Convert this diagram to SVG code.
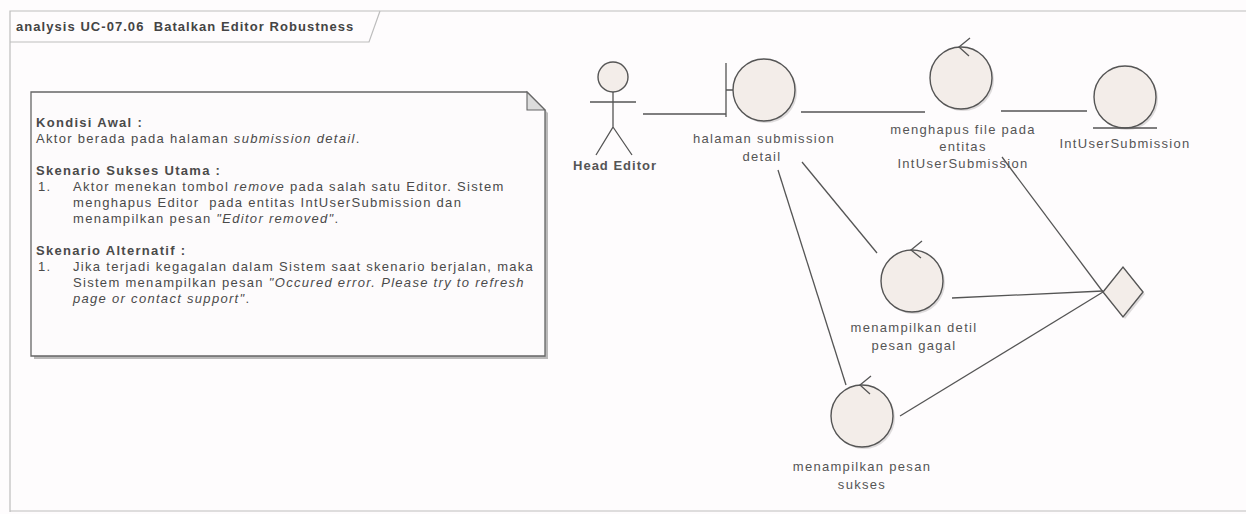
<svg xmlns="http://www.w3.org/2000/svg" width="1246" height="514" viewBox="0 0 1246 514">
<style>
.bg{fill:#fefcfd}
.frame{fill:none;stroke:#bdbdbd;stroke-width:1.2}
.t{font-family:"Liberation Sans",Arial,sans-serif;font-size:13px;letter-spacing:1.3px;fill:#555}
.nt{fill:#4a4a4a}
.b{font-weight:bold}
.i{font-style:italic}
.n{font-style:normal}
.c{text-anchor:middle}
.node{fill:#f3ede9;stroke:#555;stroke-width:1.4}
.sh{fill:#b9b4b4;opacity:.45}
.ln{stroke:#555;stroke-width:1.3;fill:none}
</style>
<rect class="bg" x="0" y="0" width="1246" height="514"/>
<g id="frame">
  <path class="frame" d="M10,512 V11 H1246 M10,511 H1246"/>
  <path class="frame" d="M10,42 H369 L380,11"/>
  <text class="t b" x="16" y="31" xml:space="preserve" style="letter-spacing:1.05px;fill:#444">analysis UC-07.06  Batalkan Editor Robustness</text>
</g>
<g id="note">
  <polygon points="34,95 530,95 548,113 548,359 34,359" fill="#8c8c8c" opacity=".6"/>
  <polygon points="31,92 527,92 545,110 545,356 31,356" fill="#fdfbfc" stroke="#666" stroke-width="1.3"/>
  <polygon points="527,92 527,110 545,110" fill="#dcdcdc" stroke="#666" stroke-width="1.1"/>
  <text class="t b nt" x="36" y="127">Kondisi Awal :</text>
  <text class="t nt" x="36" y="143">Aktor berada pada halaman <tspan class="i">submission detail</tspan>.</text>
  <text class="t b nt" x="36" y="175">Skenario Sukses Utama :</text>
  <text class="t nt" x="38" y="191">1.</text>
  <text class="t nt" x="73" y="191">Aktor menekan tombol <tspan class="i">remove</tspan> pada salah satu Editor. Sistem</text>
  <text class="t nt" x="73" y="207" xml:space="preserve">menghapus Editor  pada entitas IntUserSubmission dan</text>
  <text class="t nt" x="73" y="223">menampilkan pesan <tspan class="i">"Editor removed"</tspan>.</text>
  <text class="t b nt" x="36" y="255">Skenario Alternatif :</text>
  <text class="t nt" x="38" y="271">1.</text>
  <text class="t nt" x="73" y="271">Jika terjadi kegagalan dalam Sistem saat skenario berjalan, maka</text>
  <text class="t nt" x="73" y="287">Sistem menampilkan pesan <tspan class="i">"Occured error. Please try to refresh</tspan></text>
  <text class="t nt" x="73" y="303"><tspan class="i">page or contact support"</tspan>.</text>
</g>
<g id="connectors">
  <line class="ln" x1="643" y1="114" x2="726" y2="114"/>
  <line class="ln" x1="801" y1="112" x2="925" y2="112"/>
  <line class="ln" x1="1001" y1="111" x2="1087" y2="111"/>
  <line class="ln" x1="802" y1="162" x2="877" y2="253"/>
  <line class="ln" x1="778" y1="170" x2="846" y2="385"/>
  <line class="ln" x1="1002" y1="157" x2="1103" y2="292"/>
  <line class="ln" x1="952" y1="298" x2="1103" y2="291"/>
  <line class="ln" x1="900" y1="416" x2="1103" y2="292"/>
</g>
<g id="head-editor">
  <circle class="node" cx="613" cy="77" r="15"/>
  <path class="ln" d="M590,102 H636 M613,92 V127 L596,155 M613,127 L632,155"/>
  <text class="t b c" x="615" y="170" style="letter-spacing:1px;fill:#555">Head Editor</text>
</g>
<g id="halaman-submission-detail">
  <circle class="sh" cx="766" cy="92" r="31"/>
  <path class="ln" d="M726,63 V117 M726,90 H733"/>
  <circle class="node" cx="764" cy="90" r="31"/>
  <text class="t c" x="764" y="142.5">halaman submission</text>
  <text class="t c" x="762" y="160.5">detail</text>
</g>
<g id="menghapus-file">
  <circle class="sh" cx="963" cy="80" r="31"/>
  <circle class="node" cx="961" cy="78" r="31"/>
  <path class="ln" d="M970,38 L959,47 L969,56"/>
  <text class="t c" x="963" y="134">menghapus file pada</text>
  <text class="t c" x="963" y="151">entitas</text>
  <text class="t c" x="963" y="168">IntUserSubmission</text>
</g>
<g id="intusersubmission">
  <circle class="sh" cx="1127" cy="99" r="31"/>
  <circle class="node" cx="1125" cy="97" r="31"/>
  <line class="ln" x1="1093" y1="128" x2="1157" y2="128"/>
  <text class="t c" x="1125" y="147.5">IntUserSubmission</text>
</g>
<g id="menampilkan-detil-pesan-gagal">
  <circle class="sh" cx="914" cy="283" r="31"/>
  <circle class="node" cx="912" cy="281" r="31"/>
  <path class="ln" d="M922,241 L911,250 L921,258"/>
  <text class="t c" x="914" y="332">menampilkan detil</text>
  <text class="t c" x="914" y="350">pesan gagal</text>
</g>
<g id="menampilkan-pesan-sukses">
  <circle class="sh" cx="864" cy="418" r="31"/>
  <circle class="node" cx="862" cy="416" r="31"/>
  <path class="ln" d="M871,376 L860,385 L870,394"/>
  <text class="t c" x="862" y="470.5">menampilkan pesan</text>
  <text class="t c" x="862" y="488.5">sukses</text>
</g>
<g id="decision">
  <polygon class="sh" points="1105,294 1125,269 1145,294 1125,319"/>
  <polygon class="node" points="1103,292 1123,267 1143,292 1123,317"/>
</g>
</svg>
